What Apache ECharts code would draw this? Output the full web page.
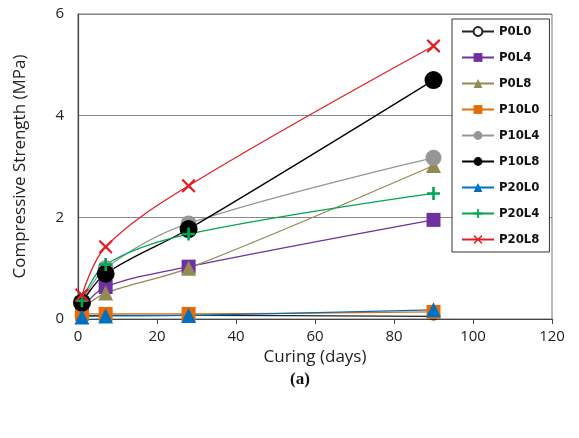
<!DOCTYPE html>
<html>
<head>
<meta charset="utf-8">
<script src="https://cdn.jsdelivr.net/npm/echarts@6/dist/echarts.min.js"></script>
<style>
  html, body { margin: 0; padding: 0; background: #fff; }
  #chart { width: 579px; height: 438px; }
</style>
</head>
<body>
<div id="chart"></div>
<script>
// curing ages (days)
const days = [1, 7, 28, 90];
const xTicks = [0, 20, 40, 60, 80, 100, 120];
const yTicks = [0, 2, 4, 6];

// compressive strength (MPa)
const p0l0 = [0.05, 0.07, 0.07, 0.05];
const p0l4 = [0.22, 0.63, 1.03, 1.95];
const p0l8 = [0.2, 0.51, 1.0, 3.02];
const p10l0 = [0.1, 0.1, 0.1, 0.14];
const p10l4 = [0.33, 1.0, 1.88, 3.17];
const p10l8 = [0.32, 0.89, 1.77, 4.7];
const p20l0 = [0.04, 0.06, 0.07, 0.18];
const p20l4 = [0.36, 1.07, 1.67, 2.47];
const p20l8 = [0.47, 1.42, 2.62, 5.37];

const plusPath = 'path://M4,0H6V4H10V6H6V10H4V6H0V4H4Z';
const crossPath = 'path://M1,0L5,3.8L9,0L10,1.2L6.2,5L10,8.8L9,10L5,6.2L1,10L0,8.8L3.8,5L0,1.2Z';

function mk(name, data, color, symbol, size) {
  return {
    name: name,
    type: 'line',
    smooth: 0.35,
    data: days.map((d, i) => [d, data[i]]),
    symbol: symbol,
    symbolSize: size,
    showAllSymbol: true,
    lineStyle: { color: color, width: 1.3 },
    itemStyle: { color: color, opacity: 1 },
    emphasis: { disabled: true }
  };
}

const chart = echarts.init(document.getElementById('chart'));
const option = {
  animation: false,
  backgroundColor: '#fff',
  textStyle: { fontFamily: 'Open Sans' },
  grid: {
    left: 78, right: 27, top: 14, bottom: 119,
    show: true, borderColor: '#777', borderWidth: 1
  },
  legend: {
    orient: 'vertical',
    left: 452, top: 19,
    width: 95,
    padding: [6, 10, 6, 9],
    itemGap: 13,
    itemWidth: 32,
    itemHeight: 11,
    borderColor: '#333',
    borderWidth: 1,
    backgroundColor: '#fff',
    textStyle: { fontSize: 13, color: '#111', fontFamily: 'DejaVu Sans Condensed, Liberation Sans', fontWeight: 'bold' },
    data: ['P0L0', 'P0L4', 'P0L8', 'P10L0', 'P10L4', 'P10L8', 'P20L0', 'P20L4', 'P20L8']
  },
  xAxis: {
    type: 'value',
    min: 0, max: 120, interval: 20,
    name: 'Curing (days)',
    nameLocation: 'middle',
    nameGap: 21,
    nameTextStyle: { fontSize: 17, color: '#222' },
    axisLine: { lineStyle: { color: '#444', width: 1.2 } },
    axisTick: { show: true, length: 5, lineStyle: { color: '#444' } },
    axisLabel: { fontSize: 15, color: '#222', margin: 10 },
    splitLine: { show: false }
  },
  yAxis: {
    type: 'value',
    min: 0, max: 6, interval: 2,
    name: 'Compressive Strength (MPa)',
    nameLocation: 'middle',
    nameGap: 49,
    nameTextStyle: { fontSize: 17, color: '#222' },
    axisLine: { show: true, lineStyle: { color: '#444', width: 1.2 } },
    axisTick: { show: false },
    axisLabel: { fontSize: 15, color: '#222', margin: 14 },
    splitLine: { show: true, lineStyle: { color: '#888', width: 1 } }
  },
  graphic: [{
    type: 'text',
    left: 290, top: 371,
    style: { text: '(a)', fontSize: 17, fontWeight: 'bold', fontFamily: 'Liberation Serif', fill: '#111' }
  }],
  series: [
    mk('P0L0', p0l0, '#222', 'emptyCircle', 6),
    mk('P0L4', p0l4, '#7030A0', 'rect', 14),
    mk('P0L8', p0l8, '#948A54', 'triangle', 15),
    mk('P10L0', p10l0, '#E46C0A', 'rect', 14),
    mk('P10L4', p10l4, '#969696', 'circle', 16),
    mk('P10L8', p10l8, '#000', 'circle', 18),
    mk('P20L0', p20l0, '#0070C0', 'triangle', 15),
    mk('P20L4', p20l4, '#00A651', plusPath, 13),
    mk('P20L8', p20l8, '#E41E26', crossPath, 14)
  ]
};
chart.setOption(option);
</script>
</body>
</html>
